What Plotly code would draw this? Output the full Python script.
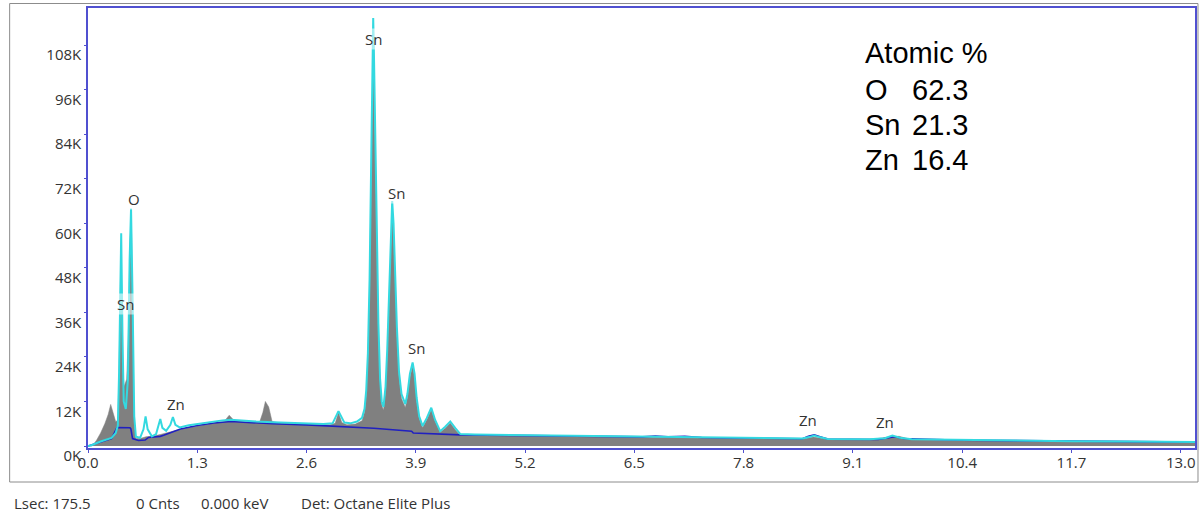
import plotly.graph_objects as go

# ---------------- data ----------------
# measured spectrum (grey fill): energy in keV, counts
measured_keV = [0.00, 0.05, 0.10, 0.15, 0.20, 0.24, 0.27, 0.30, 0.33, 0.355, 0.37, 0.39, 0.41, 0.43,
                0.46, 0.48, 0.50, 0.515, 0.53, 0.55, 0.57, 0.62, 0.69, 0.78, 0.86, 0.95, 1.01, 1.10,
                1.30, 1.50, 1.62, 1.68, 1.74, 1.90, 2.04, 2.08, 2.11, 2.15, 2.19, 2.30, 2.60, 2.88,
                2.94, 2.98, 3.02, 3.08, 3.18, 3.26, 3.29, 3.31, 3.33, 3.35, 3.37, 3.385, 3.393, 3.40,
                3.415, 3.435, 3.455, 3.475, 3.495, 3.515, 3.54, 3.56, 3.58, 3.60, 3.619, 3.635, 3.655,
                3.675, 3.70, 3.73, 3.775, 3.80, 3.83, 3.862, 3.885, 3.91, 3.94, 3.98, 4.03, 4.084, 4.13,
                4.19, 4.25, 4.31, 4.37, 4.43, 4.6, 5.0, 5.5, 6.0, 6.5, 7.0, 7.5, 8.0, 8.5, 8.63, 8.8,
                9.3, 9.55, 9.65, 9.8, 10.4, 11.0, 11.7, 12.4, 13.17]
measured_counts = [0, 0, 1500, 3500, 6000, 8500, 11200, 9000, 6500, 7000, 20000, 50000, 22000, 16000,
                   18000, 30000, 55000, 62000, 35000, 6000, 2000, 2000, 2500, 2700, 3100, 3600, 4000, 4500,
                   5400, 6100, 6600, 8300, 6800, 6400, 6300, 9000, 12000, 10500, 6600, 6100, 5900, 5700,
                   6100, 9000, 6300, 5700, 5900, 6800, 9000, 13500, 23000, 42000, 74000, 98000, 108000, 102000,
                   81000, 52000, 30000, 16500, 11000, 9600, 14500, 24000, 37500, 53000, 63000, 57000, 42000,
                   29500, 18500, 12800, 10400, 13000, 18500, 21500, 18500, 12000, 7500, 5000, 7000, 9800, 6600,
                   3700, 4800, 6200, 4400, 2800, 2900, 2800, 2700, 2500, 2400, 2300, 2100, 2000, 1900, 2400, 1800,
                   1700, 2500, 2600, 1700, 1500, 1400, 1200, 1100, 1000]

# fitted spectrum (cyan line)
fit_keV = [0.00, 0.04, 0.15, 0.28, 0.33, 0.355, 0.37, 0.385, 0.395, 0.41, 0.425, 0.45, 0.475, 0.495,
           0.512, 0.53, 0.55, 0.57, 0.62, 0.66, 0.685, 0.71, 0.76, 0.81, 0.84, 0.86, 0.885, 0.93, 0.98,
           1.01, 1.04, 1.09, 1.2, 1.4, 1.6, 1.70, 1.85, 2.0, 2.2, 2.4, 2.6, 2.8, 2.91, 2.98, 3.05, 3.12,
           3.2, 3.26, 3.29, 3.31, 3.33, 3.35, 3.37, 3.385, 3.393, 3.40, 3.415, 3.435, 3.455, 3.475, 3.495,
           3.515, 3.54, 3.56, 3.58, 3.60, 3.619, 3.635, 3.655, 3.675, 3.70, 3.73, 3.775, 3.80, 3.83,
           3.862, 3.885, 3.91, 3.94, 3.98, 4.03, 4.084, 4.13, 4.19, 4.25, 4.31, 4.37, 4.43, 4.6, 5.0,
           5.5, 6.0, 6.5, 7.0, 7.5, 8.0, 8.5, 8.58, 8.64, 8.70, 8.8, 9.3, 9.48, 9.57, 9.66, 9.8, 10.4,
           11.0, 11.7, 12.4, 13.17]
fit_counts = [0, 200, 1200, 2200, 3500, 5500, 20000, 50000, 57300, 30000, 12000, 10000, 18000, 50000,
              64000, 40000, 8000, 2500, 2200, 4500, 8000, 4500, 2600, 3200, 5600, 7300, 4900, 4100, 5700,
              7800, 5700, 5000, 5600, 6300, 6900, 7100, 6800, 6600, 6400, 6200, 6100, 5900, 6100, 9400, 6300, 6100,
              6600, 7600, 10000, 15000, 25000, 45000, 78000, 103000, 115300, 108000, 86000, 56000, 33000, 18000, 12000,
              10500, 16000, 26000, 40000, 56000, 66000, 60000, 45000, 32000, 20000, 14000, 11300, 14000, 19500,
              22500, 19500, 13000, 8000, 5400, 7500, 10300, 7000, 4000, 5200, 6600, 4800, 3200, 3100, 3000,
              2800, 2600, 2500, 2400, 2200, 2100, 2000, 2400, 2800, 2400, 1900, 1800, 2100, 2800, 2200, 1800, 1600,
              1500, 1300, 1200, 1100]

# background (dark blue line)
background_keV = [0.00, 0.28, 0.345, 0.35, 0.50, 0.51, 0.53, 0.60, 0.68, 0.72, 0.86, 0.90, 1.02, 1.1,
                  1.3, 1.5, 1.70, 1.85, 2.2, 2.6, 3.0, 3.4, 3.85, 3.87, 4.43, 5.0, 6.0, 6.6, 6.75, 6.9,
                  7.1, 7.3, 7.6, 8.0, 8.5, 8.57, 8.64, 8.71, 8.8, 9.4, 9.52, 9.6, 9.7, 10.4, 11.0, 12.0, 13.17]
background_counts = [0, 2000, 5000, 5000, 4900, 4600, 2000, 1500, 1600, 2300, 2600, 2900, 4000, 4600,
                     5500, 6200, 6600, 6400, 6000, 5700, 5300, 4800, 4000, 3500, 3000, 2900, 2550, 2450, 2700, 2500,
                     2600, 2300, 2200, 2050, 1950, 2600, 3000, 2500, 1850, 1750, 2100, 2500, 2000, 1550, 1450, 1250, 1050]

# peak labels
peak_labels = ["Sn", "Sn", "Sn", "O", "Sn", "Zn", "Zn", "Zn"]
peak_label_keV = [3.399, 3.672, 3.909, 0.547, 0.452, 1.046, 8.568, 9.483]
peak_label_counts = [109600, 68100, 26300, 66500, 38300, 11200, 6900, 6600]

# axis ticks
x_tick_values = [0.0, 1.3, 2.6, 3.9, 5.2, 6.5, 7.8, 9.1, 10.4, 11.7, 13.0]
y_tick_values = [0, 12000, 24000, 36000, 48000, 60000, 72000, 84000, 96000, 108000]
y_tick_labels = ["0K", "12K", "24K", "36K", "48K", "60K", "72K", "84K", "96K", "108K"]

# composition table
atomic_title = "Atomic %"
atomic_elements = ["O", "Sn", "Zn"]
atomic_percent = ["62.3", "21.3", "16.4"]

# status line
status_texts = ["Lsec: 175.5", "0 Cnts", "0.000 keV", "Det: Octane Elite Plus"]

# ---------------- layout helpers ----------------
W, H = 1201, 514
ML, MR, MT, MB = 88, 4, 8, 66
PW, PH = W - ML - MR, H - MT - MB


def px_x(x):
    return (x - ML) / PW


def px_y(y):
    return (H - MB - y) / PH


FRAME_BLUE = "#5050d0"
TEXT_COL = "#333333"
UI_FONT = "Open Sans"

fig = go.Figure()
fig.add_trace(go.Scatter(x=measured_keV, y=measured_counts, mode="lines", fill="tozeroy",
                         fillcolor="#808080", line=dict(color="#808080", width=0.5),
                         hoverinfo="skip", showlegend=False))
fig.add_trace(go.Scatter(x=background_keV, y=background_counts, mode="lines",
                         line=dict(color="#2020c0", width=1.6), hoverinfo="skip", showlegend=False))
fig.add_trace(go.Scatter(x=fit_keV, y=fit_counts, mode="lines",
                         line=dict(color="#33d9e0", width=2), hoverinfo="skip", showlegend=False))

annotations = []
for lab, ex, cy in zip(peak_labels, peak_label_keV, peak_label_counts):
    annotations.append(dict(x=ex, y=cy, xref="x", yref="y", text=lab, showarrow=False,
                            font=dict(family=UI_FONT, size=15, color=TEXT_COL),
                            bgcolor="rgba(255,255,255,0.55)", borderpad=0,
                            xanchor="center", yanchor="middle"))

# composition table
annotations.append(dict(x=px_x(864), y=px_y(53), xref="paper", yref="paper", text=atomic_title,
                        showarrow=False, xanchor="left", yanchor="middle",
                        font=dict(family="Liberation Sans, Arial", size=29, color="#000000")))
for i, (el, val) in enumerate(zip(atomic_elements, atomic_percent)):
    yc = 90 + i * 35
    annotations.append(dict(x=px_x(864), y=px_y(yc), xref="paper", yref="paper", text=el,
                            showarrow=False, xanchor="left", yanchor="middle",
                            font=dict(family="Liberation Sans, Arial", size=29, color="#000000")))
    annotations.append(dict(x=px_x(911), y=px_y(yc), xref="paper", yref="paper", text=val,
                            showarrow=False, xanchor="left", yanchor="middle",
                            font=dict(family="Liberation Sans, Arial", size=29, color="#000000")))

# status line
status_x = [12, 134, 199, 299]
for txt, sx in zip(status_texts, status_x):
    annotations.append(dict(x=px_x(sx), y=px_y(503), xref="paper", yref="paper", text=txt,
                            showarrow=False, xanchor="left", yanchor="middle",
                            font=dict(family=UI_FONT, size=15, color=TEXT_COL)))

shapes = [dict(type="rect", xref="paper", yref="paper",
               x0=px_x(9.5), x1=px_x(1200), y0=px_y(3.5), y1=px_y(482),
               line=dict(color="#8c8c8c", width=1), fillcolor="rgba(0,0,0,0)", layer="below")]

fig.update_layout(
    width=W, height=H,
    margin=dict(l=ML, r=MR, t=MT, b=MB),
    paper_bgcolor="white", plot_bgcolor="white",
    showlegend=False,
    annotations=annotations,
    shapes=shapes,
    xaxis=dict(range=[0, 13.17], tickmode="array", tickvals=x_tick_values,
               ticktext=[f"{v:.1f}" for v in x_tick_values], ticklabelstandoff=-3,
               showgrid=False, zeroline=False, showline=True, mirror=True,
               linecolor=FRAME_BLUE, linewidth=1.5, ticks="outside", ticklen=3,
               tickcolor=FRAME_BLUE, tickfont=dict(family=UI_FONT, size=15, color=TEXT_COL)),
    yaxis=dict(range=[-540, 118000], tickmode="array", tickvals=y_tick_values,
               ticktext=y_tick_labels, ticklabelshift=10, ticklabelstandoff=0,
               showgrid=False, zeroline=False, showline=True, mirror=True,
               linecolor=FRAME_BLUE, linewidth=1.5, ticks="outside", ticklen=2,
               tickcolor=FRAME_BLUE, tickfont=dict(family=UI_FONT, size=15, color=TEXT_COL)),
)

fig.write_html("out.html")
